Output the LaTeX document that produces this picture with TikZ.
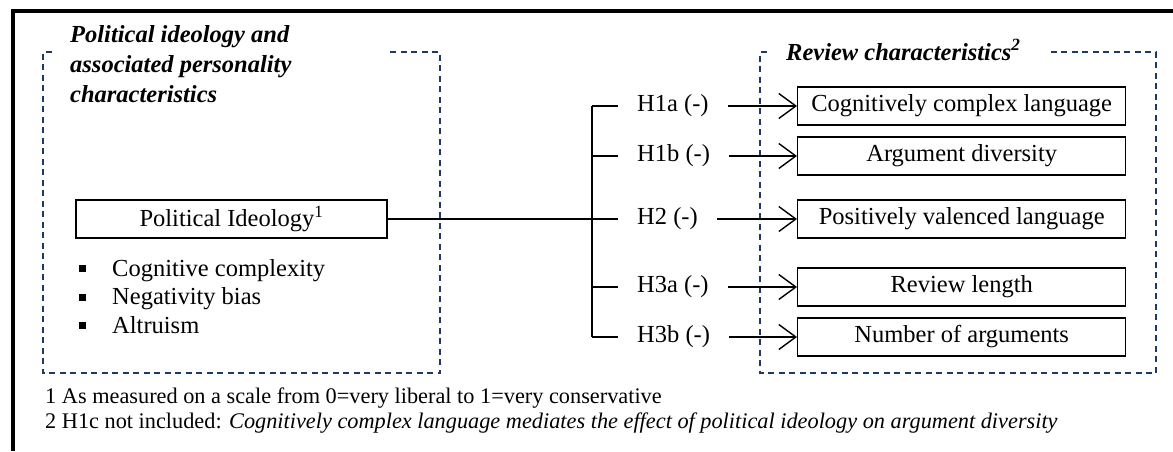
\documentclass[tikz,border=0pt]{standalone}
\usepackage{fontspec}
\setmainfont{Liberation Serif}
\usetikzlibrary{arrows.meta}

\definecolor{dashblue}{RGB}{31,56,100}
\newcommand{\sqbullet}{\makebox[33pt][l]{\rule[4pt]{7pt}{7pt}}}

\begin{document}
\begin{tikzpicture}[x=1pt,y=-1pt,
	every node/.style={font=\fontsize{24.5}{29.5}\selectfont},
	varbox/.style={draw,line width=1.4pt,minimum height=38pt,inner sep=0pt},
	hyplabel/.style={inner xsep=19pt,inner ysep=0pt},
	groupline/.style={draw=dashblue,line width=1.4pt,dash pattern=on 6pt off 4.5pt},
	grouptitle/.style={inner sep=0pt,align=left,font=\fontsize{24.5}{30}\selectfont\bfseries\itshape},
	note/.style={anchor=base west,inner sep=0pt,font=\fontsize{22.3}{26}\selectfont},
	arr/.style={-{Straight Barb[length=17pt,width=25pt]},line width=1.4pt}]
	\useasboundingbox (0,0) rectangle (1173,451);

	% frame
	\draw[line width=4pt] (1173,10.5) -- (12.5,10.5) -- (12.5,451);

	% dashed groups
	\draw[groupline] (52,52) -- (43,52) -- (43,373) -- (440,373) -- (440,52) -- (388,52);
	\draw[groupline] (767,52) -- (760,52) -- (760,373) -- (1156,373) -- (1156,52) -- (1046,52);

	\node[grouptitle,anchor=north west] (ttlleft) at (70,25) {Political ideology and\\associated personality\\characteristics};
	\node[grouptitle,anchor=base west] (ttlright) at (786,60) {Review characteristics\textsuperscript{2}};

	% independent variable
	\node[varbox,minimum width=311pt] (ideo) at (231.5,219) {Political Ideology\textsuperscript{1}};
	\node[anchor=base west,inner sep=0pt] (cog) at (79,276) {\sqbullet Cognitive complexity};
	\node[anchor=base west,inner sep=0pt] (neg) at (79,304.5) {\sqbullet Negativity bias};
	\node[anchor=base west,inner sep=0pt] (alt) at (79,333) {\sqbullet Altruism};

	% hypotheses
	\coordinate (jn) at (592,219);
	\node[hyplabel,anchor=west] (h1a) at (618,106) {H1a (-)};
	\node[hyplabel,anchor=west] (h1b) at (618,156) {H1b (-)};
	\node[hyplabel,anchor=west] (h2) at (618,219) {H2 (-)};
	\node[hyplabel,anchor=west] (h3a) at (618,287) {H3a (-)};
	\node[hyplabel,anchor=west] (h3b) at (618,337) {H3b (-)};

	% review characteristics
	\node[varbox,minimum width=328pt,anchor=west] (ccl) at (797,106) {Cognitively complex language};
	\node[varbox,minimum width=328pt,anchor=west] (adv) at (797,156) {Argument diversity};
	\node[varbox,minimum width=328pt,anchor=west] (pvl) at (797,219) {Positively valenced language};
	\node[varbox,minimum width=328pt,anchor=west] (rlen) at (797,287) {Review length};
	\node[varbox,minimum width=328pt,anchor=west] (narg) at (797,337) {Number of arguments};

	\draw[line width=2.2pt] (ideo.east) -- (jn);
	\draw[line width=1.4pt] (jn |- h1a.west) -- (jn |- h3b.west);
	\draw[line width=1.4pt] (jn |- h1a.west) -- (h1a.west);
	\draw[line width=1.4pt] (jn |- h1b.west) -- (h1b.west);
	\draw[line width=1.4pt] (jn |- h2.west) -- (h2.west);
	\draw[line width=1.4pt] (jn |- h3a.west) -- (h3a.west);
	\draw[line width=1.4pt] (jn |- h3b.west) -- (h3b.west);

	\draw[arr] (h1a.east) -- (ccl.west);
	\draw[arr] (h1b.east) -- (adv.west);
	\draw[arr] (h2.east) -- (pvl.west);
	\draw[arr] (h3a.east) -- (rlen.west);
	\draw[arr] (h3b.east) -- (narg.west);

	% notes
	\node[note] (fn1) at (45,403) {1 As measured on a scale from 0=very liberal to 1=very conservative};
	\node[note] (fn2) at (45,428) {2 H1c not included: \textit{Cognitively complex language mediates the effect of political ideology on argument diversity}};
\end{tikzpicture}
\end{document}
